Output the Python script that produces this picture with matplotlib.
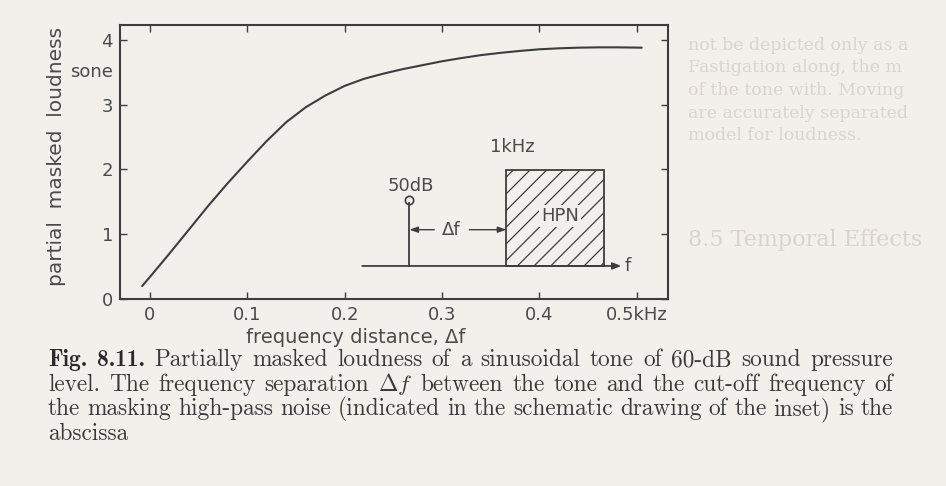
import matplotlib
matplotlib.use("Agg")
import matplotlib.pyplot as plt
from matplotlib.patches import Rectangle

# partial masked loudness curve
freq_dist = [-0.008, 0.000, 0.020, 0.040, 0.060, 0.080, 0.100, 0.120, 0.140,
             0.160, 0.180, 0.200, 0.220, 0.240, 0.260, 0.280, 0.300, 0.320,
             0.340, 0.360, 0.380, 0.400, 0.420, 0.440, 0.460, 0.480, 0.505]
loudness = [0.20, 0.34, 0.70, 1.07, 1.44, 1.79, 2.12, 2.44, 2.73,
            2.96, 3.14, 3.29, 3.40, 3.48, 3.55, 3.61, 3.67, 3.72,
            3.765, 3.80, 3.83, 3.855, 3.87, 3.88, 3.885, 3.885, 3.88]

x_ticks = [0, 0.1, 0.2, 0.3, 0.4, 0.5]
x_tick_labels = ["0", "0.1", "0.2", "0.3", "0.4", "0.5kHz"]
y_ticks = [0, 1, 2, 3, 4]

# schematic inset (drawn in data units of the main axes)
inset_base_y = 0.51
inset_base_x = (0.218, 0.484)
tone_x = 0.2665
tone_top = 1.53
noise_left, noise_right, noise_top = 0.366, 0.466, 1.99
gap_y = 1.07

caption_lines = [
    "Fig. 8.11. Partially masked loudness of a sinusoidal tone of 60-dB sound pressure",
    "level. The frequency separation $\\Delta{f}$ between the tone and the cut-off frequency of",
    "the masking high-pass noise (indicated in the schematic drawing of the inset) is the",
    "abscissa",
]

# faint text of the book page around the figure
page_lines = ["not be depicted only as a", "Fastigation along, the m",
              "of the tone with. Moving", "are accurately separated",
              "model for loudness."]

paper = "#f3f0ec"
ink = "#3d3d3d"
label_ink = "#4a4a4a"

plt.rcParams["mathtext.fontset"] = "cm"
plt.rcParams["hatch.linewidth"] = 0.9

W, H = 946, 486
fig = plt.figure(figsize=(W / 100, H / 100), dpi=100, facecolor=paper)
ax = fig.add_axes([120 / W, 1 - 299 / H, 548 / W, 274 / H])
ax.set_facecolor("none")

ax.plot(freq_dist, loudness, color=ink, lw=1.5, solid_capstyle="round",
        solid_joinstyle="round")

ax.set_xlim(-0.0307, 0.532)
ax.set_ylim(0, 4.23)
ax.set_xticks(x_ticks)
ax.set_xticklabels(x_tick_labels)
ax.set_yticks(y_ticks)
ax.tick_params(direction="in", length=5, width=1.0, color=ink,
               top=True, right=True, labelsize=13, labelcolor=label_ink, pad=5)
for s in ax.spines.values():
    s.set_linewidth(1.5)
    s.set_color(ink)

ax.set_xlabel("frequency distance, \u0394f", fontsize=14, color=label_ink)
ax.xaxis.set_label_coords((356 - 120) / 548, -(337 - 299) / 274)
ax.xaxis.label.set_verticalalignment("center")
ax.set_ylabel("partial  masked  loudness", fontsize=14.5, color=label_ink)
ax.yaxis.set_label_coords(-(120 - 57) / 548, 0.52)
ax.yaxis.label.set_verticalalignment("center")
ax.text(-(120 - 91) / 548, 3.51, "sone", transform=ax.get_yaxis_transform(),
        ha="center", va="center", fontsize=13, color=label_ink)

# inset schematic
ax.annotate("", xy=(inset_base_x[1], inset_base_y), xytext=(inset_base_x[0], inset_base_y),
            arrowprops=dict(arrowstyle="-|>,head_length=0.5,head_width=0.2",
                            color=ink, lw=1.3, shrinkA=0, shrinkB=0))
ax.text(inset_base_x[1] + 0.003, inset_base_y, "f", fontsize=13, color=label_ink,
        ha="left", va="center")
ax.plot([tone_x, tone_x], [inset_base_y, tone_top - 0.05], color=ink, lw=1.3)
ax.plot([tone_x], [tone_top], marker="o", ms=6, mfc="none", mec=ink, mew=1.2)
ax.text(tone_x + 0.001, 1.75, "50dB", fontsize=13, color=label_ink, ha="center", va="center")
ax.add_patch(Rectangle((noise_left, inset_base_y), noise_right - noise_left,
                       noise_top - inset_base_y, fill=False, hatch="//",
                       ec=ink, lw=1.3))
ax.text(0.421, 1.28, "HPN", fontsize=13, color=label_ink, ha="center", va="center",
        bbox=dict(boxstyle="square,pad=0.1", fc=paper, ec="none"))
ax.text(0.372, 2.34, "1kHz", fontsize=13, color=label_ink, ha="center", va="center")
ax.text(0.309, gap_y, "\u0394f", fontsize=13, color=label_ink, ha="center", va="center")
gap_arrow = dict(arrowstyle="-|>,head_length=0.5,head_width=0.18", color=ink,
                 lw=1.0, shrinkA=0, shrinkB=0)
ax.annotate("", xy=(tone_x, gap_y), xytext=(0.292, gap_y), arrowprops=gap_arrow)
ax.annotate("", xy=(noise_left, gap_y), xytext=(0.328, gap_y), arrowprops=gap_arrow)

# page text showing around the figure
for i, line in enumerate(page_lines):
    fig.text(688 / W, 1 - (45 + 22.7 * i) / H, line, family="DejaVu Serif",
             fontsize=12.5, color="#d9d4ce", va="center")
fig.text(688 / W, 1 - 240 / H, "8.5 Temporal Effects", family="DejaVu Serif",
         fontsize=16, color="#d9d4ce", va="center")

# caption, justified word by word
renderer = fig.canvas.get_renderer()
left_px, right_px = 48, 893
for i, line in enumerate(caption_lines):
    base = H - (360 + 24.5 * i) - 6
    words = line.split(" ")
    items = []
    for j, w in enumerate(words):
        bold = i == 0 and j < 2
        t = fig.text(0, base / H, w, family="cmb10" if bold else "cmr10",
                     fontsize=16.8, color="#2a2a2a" if bold else "#3a3a3a",
                     va="baseline", ha="left")
        items.append((t, t.get_window_extent(renderer).width))
    total = sum(wd for _, wd in items)
    if i < len(caption_lines) - 1:
        gap = (right_px - left_px - total) / (len(items) - 1)
    else:
        gap = 7
    x = left_px
    for t, wd in items:
        t.set_x(x / W)
        x += wd + gap

fig.savefig("out.png", dpi=100, facecolor=paper)
